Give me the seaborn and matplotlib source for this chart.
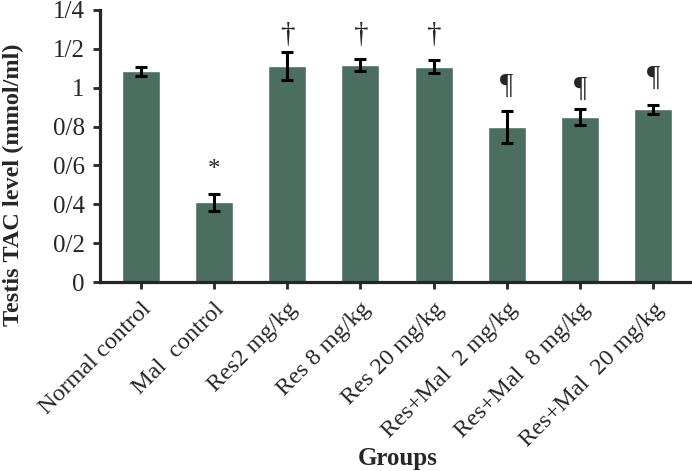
import numpy as np
import pandas as pd
import matplotlib
matplotlib.use('Agg')
import matplotlib.pyplot as plt
import seaborn as sns

groups = ['Normal control', 'Mal  control', 'Res2 mg/kg', 'Res 8 mg/kg', 'Res 20 mg/kg',
          'Res+Mal  2 mg/kg', 'Res+Mal  8 mg/kg', 'Res+Mal  20 mg/kg']
tac = [1.084, 0.41, 1.109, 1.118, 1.108, 0.80, 0.849, 0.889]
sem = [0.022, 0.042, 0.072, 0.032, 0.032, 0.082, 0.042, 0.022]
marks = ['', '*', '\u2020', '\u2020', '\u2020', '\u00b6', '\u00b6', '\u00b6']
mark_y = [None, 0.575, 1.27, 1.27, 1.27, 1.01, 0.995, 1.05]
yticks = [0, 0.2, 0.4, 0.6, 0.8, 1.0, 1.2, 1.4]
ytick_labels = ['0', '0/2', '0/4', '0/6', '0/8', '1', '1/2', '1/4']

sns.set_style('ticks')
plt.rcParams['font.family'] = ['Liberation Serif', 'DejaVu Serif']

df = pd.DataFrame({'group': groups, 'tac': tac})

fig = plt.figure(figsize=(6.92, 4.71), dpi=100)
ax = fig.add_axes([0.1445, 0.401, 0.8525, 0.578])
sns.barplot(x='group', y='tac', data=df, color='#4b6e60', saturation=1,
            width=0.52, errorbar=None, ax=ax)
ax.errorbar(np.arange(len(groups)), tac, yerr=sem, fmt='none', ecolor='black',
            elinewidth=2.2, capsize=4.5, capthick=2.2)

# significance marks above the bars
for i, m in enumerate(marks):
    if m:
        fs = 18 if m == '*' else 21
        ax.text(i, mark_y[i], m, ha='center', va='center', fontsize=fs)

ax.set_ylim(0, 1.4)
ax.set_xlim(-0.556, 7.5)
ax.set_yticks(yticks)
ax.set_yticklabels(ytick_labels, fontsize=18)
ax.set_xticks(range(len(groups)))
ax.set_xticklabels(groups, rotation=45, ha='right', rotation_mode='anchor', fontsize=17.5)
ax.tick_params(axis='both', direction='out', length=5, width=2)
ax.tick_params(axis='y', pad=6)
ax.tick_params(axis='x', pad=7)
for s in ['left', 'bottom']:
    ax.spines[s].set_linewidth(2.3)
sns.despine(ax=ax)

ax.set_xlabel('Groups', fontsize=18, fontweight='bold')
ax.xaxis.set_label_coords(0.505, -0.605)
ax.set_ylabel('Testis TAC level (mmol/ml)', fontsize=17.5, fontweight='bold')
ax.yaxis.set_label_coords(-0.128, 0.357)

fig.savefig('out.png', dpi=100)
